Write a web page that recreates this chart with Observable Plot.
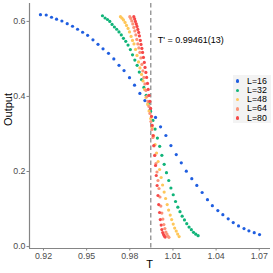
<!DOCTYPE html>
<html><head><meta charset="utf-8">
<script src="https://cdn.jsdelivr.net/npm/d3@7"></script>
<script src="https://cdn.jsdelivr.net/npm/@observablehq/plot@0.6"></script>
<style>
body{margin:0;background:#fff;font-family:"Liberation Sans",Arial,sans-serif;}
#wrap{position:relative;width:273px;height:273px;}
#legend{position:absolute;left:233px;top:75px;width:38px;height:48px;background:#f3f3f3;}
.li{position:absolute;left:0;height:9px;font-size:8.8px;line-height:9px;color:#000;white-space:nowrap;}
.li span.d{position:absolute;left:2.8px;top:2.8px;width:3.4px;height:3.4px;border-radius:50%;}
.li span.t{position:absolute;left:14px;top:0;}
.xlab{position:absolute;left:129px;width:41px;top:259px;height:11px;line-height:11px;text-align:center;font-size:11px;color:#000;}
</style></head><body><div id="wrap"></div>
<script>
const seriesLabels = ["L=16","L=32","L=48","L=64","L=80"];
const seriesColors = ["#1f5ee0","#10b479","#ffc75a","#fb9378","#f64848"];
const criticalT = 0.99461;
const criticalLabel = "T' = 0.99461(13)";
const xTicks = [0.92,0.95,0.98,1.01,1.04,1.07];
const yTicks = [0.0,0.2,0.4,0.6];

const T16=[0.9179,0.9219,0.9256,0.9291,0.9328,0.9365,0.9402,0.9437,0.9472,0.9507,0.9544,0.9579,0.9614,0.9652,0.9689,0.9725,0.9760,0.9798,0.9833,0.9870,0.9905,0.9942,0.9979,1.0014,1.0051,1.0086,1.0123,1.0158,1.0193,1.0231,1.0266,1.0303,1.0340,1.0374,1.0412,1.0447,1.0484,1.0519,1.0556,1.0594,1.0628,1.0665,1.0702];
const O16=[0.618,0.617,0.611,0.606,0.601,0.594,0.587,0.579,0.571,0.563,0.551,0.539,0.527,0.515,0.500,0.483,0.469,0.450,0.430,0.408,0.389,0.365,0.344,0.319,0.296,0.269,0.245,0.223,0.201,0.181,0.163,0.144,0.125,0.109,0.096,0.085,0.074,0.064,0.055,0.048,0.042,0.037,0.032];

const T32=[0.9610,0.9628,0.9645,0.9661,0.9677,0.9693,0.9709,0.9725,0.9741,0.9756,0.9772,0.9788,0.9804,0.9819,0.9835,0.9851,0.9866,0.9882,0.9898,0.9914,0.9929,0.9945,0.9961,0.9976,0.9992,1.0008,1.0023,1.0039,1.0055,1.0071,1.0086,1.0102,1.0118,1.0134,1.0149,1.0164,1.0180,1.0196,1.0212,1.0228,1.0243,1.0259,1.0275];
const O32=[0.615,0.609,0.605,0.600,0.592,0.585,0.579,0.572,0.564,0.555,0.547,0.537,0.525,0.511,0.497,0.483,0.465,0.445,0.424,0.403,0.381,0.360,0.336,0.313,0.289,0.267,0.243,0.219,0.197,0.176,0.156,0.138,0.120,0.105,0.093,0.081,0.071,0.061,0.052,0.045,0.038,0.033,0.029];

const T48=[0.9735,0.9746,0.9756,0.9767,0.9777,0.9788,0.9798,0.9809,0.9819,0.9829,0.9840,0.9850,0.9861,0.9871,0.9882,0.9892,0.9903,0.9913,0.9924,0.9934,0.9945,0.9955,0.9966,0.9976,0.9986,0.9997,1.0007,1.0018,1.0028,1.0039,1.0049,1.0060,1.0070,1.0081,1.0091,1.0102,1.0112,1.0123,1.0133,1.0143];
const O48=[0.6125,0.6085,0.604,0.5973,0.5893,0.5813,0.572,0.560,0.5493,0.540,0.5253,0.5093,0.492,0.476,0.4587,0.4413,0.4187,0.3973,0.3787,0.3613,0.3413,0.3173,0.2947,0.272,0.2493,0.2267,0.2053,0.184,0.164,0.1453,0.128,0.112,0.0973,0.084,0.072,0.060,0.0493,0.0413,0.0333,0.0267];

const T64=[0.9800,0.9807,0.9814,0.9821,0.9828,0.9835,0.9842,0.9849,0.9856,0.9863,0.9870,0.9877,0.9884,0.9891,0.9898,0.9905,0.9912,0.9919,0.9926,0.9933,0.9940,0.9947,0.9954,0.9961,0.9968,0.9975,0.9982,0.9989,0.9996,1.0003,1.0010,1.0016,1.0023,1.0030,1.0037,1.0044,1.0051,1.0058,1.0065,1.0072];
const O64=[0.6125,0.608,0.6013,0.5933,0.584,0.5747,0.564,0.552,0.540,0.5293,0.5173,0.5027,0.4853,0.468,0.4507,0.4333,0.416,0.400,0.3867,0.3733,0.3547,0.3333,0.312,0.2907,0.268,0.244,0.2213,0.1987,0.176,0.1547,0.132,0.108,0.0893,0.0733,0.0587,0.048,0.0387,0.0333,0.028,0.0245];

const T80=[0.9828,0.9834,0.9839,0.9845,0.9850,0.9856,0.9862,0.9867,0.9873,0.9878,0.9884,0.9889,0.9895,0.9901,0.9906,0.9912,0.9917,0.9923,0.9928,0.9934,0.9940,0.9945,0.9951,0.9956,0.9962,0.9967,0.9973,0.9979,0.9984,0.9990,0.9996,1.0001,1.0007,1.0012,1.0018,1.0023,1.0029,1.0035,1.0040,1.0046];
const O80=[0.6125,0.6067,0.600,0.5933,0.5867,0.5787,0.5707,0.5613,0.5493,0.5387,0.528,0.5173,0.504,0.4907,0.4773,0.464,0.4507,0.4347,0.4187,0.4027,0.3867,0.368,0.3467,0.3227,0.296,0.2693,0.2427,0.216,0.1893,0.1627,0.136,0.112,0.0907,0.072,0.0573,0.0453,0.0373,0.032,0.028,0.0253];

const seriesT=[T16,T32,T48,T64,T80];
const seriesO=[O16,O32,O48,O64,O80];
const rows = seriesLabels.flatMap((L,i)=>seriesT[i].map((t,j)=>({T:t,v:seriesO[i][j],L})));

// ggplot-like 5% expansion of the data extents
const xe=d3.extent(rows,d=>d.T), ye=d3.extent(rows,d=>d.v);
const xDomain=[xe[0]-0.05*(xe[1]-xe[0]), xe[1]+0.05*(xe[1]-xe[0])];
const yDomain=[ye[0]-0.05*(ye[1]-ye[0]), ye[1]+0.05*(ye[1]-ye[0])];

const lineCol="#858585", tickCol="#4d4d4d";
const chart = Plot.plot({
  width:273, height:273,
  marginLeft:29, marginRight:3, marginTop:3, marginBottom:25,
  style:{fontFamily:"'Liberation Sans', Arial, sans-serif", fontSize:"8.8px", background:"white", overflow:"visible"},
  x:{domain:xDomain},
  y:{domain:yDomain},
  color:{domain:seriesLabels, range:seriesColors},
  marks:[
    Plot.ruleX([xDomain[0]],{stroke:lineCol,strokeWidth:1.2}),
    Plot.ruleY([yDomain[0]],{stroke:lineCol,strokeWidth:1.2}),
    Plot.axisX({ticks:xTicks, tickFormat:d=>d.toFixed(2), tickSize:2.5, tickPadding:1.5, stroke:lineCol, fill:tickCol, label:null}),
    Plot.axisY({ticks:yTicks, tickFormat:d=>d.toFixed(1), tickSize:2.5, tickPadding:1.5, stroke:lineCol, fill:tickCol, label:null}),
    Plot.ruleX([criticalT],{stroke:"#7a7a7a",strokeWidth:1.1,strokeDasharray:"4.5,3"}),
    Plot.dot(rows,{x:"T",y:"v",fill:"L",r:1.6}),
    Plot.text([criticalT],{x:d=>d, frameAnchor:"top", dy:33, dx:7, text:()=>criticalLabel, textAnchor:"start", fontSize:9, fill:"black"}),
    Plot.text(["Output"],{frameAnchor:"left", dx:-21, rotate:-90, text:d=>d, fontSize:11, fill:"black"})
  ]
});
const wrap=document.getElementById("wrap");
wrap.appendChild(chart);
d3.select(wrap).append("div").attr("class","xlab").text("T");
const leg=d3.select(wrap).append("div").attr("id","legend");
seriesLabels.forEach((L,i)=>{
  const it=leg.append("div").attr("class","li").style("top",(1.5+i*9.3)+"px");
  it.append("span").attr("class","d").style("background",seriesColors[i]);
  it.append("span").attr("class","t").text(L);
});
</script>
</body></html>
